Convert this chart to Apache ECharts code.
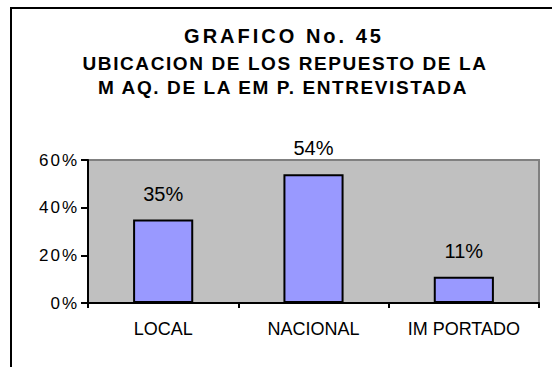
<!DOCTYPE html>
<html>
<head>
<meta charset="utf-8">
<script src="https://cdn.jsdelivr.net/npm/echarts@6/dist/echarts.min.js"></script>
<style>
  html, body { margin: 0; padding: 0; background: #fff; }
  #chart { width: 552px; height: 367px; }
  /* spaced-out lettering for the heading lines and the value axis */
  #chart text[style*="bold"][style*="20px"] { letter-spacing: 3px; }
  #chart text[style*="bold"][style*="19px"] { letter-spacing: 1.6px; }
  #chart text[style*="17px"] { letter-spacing: 2px; }
</style>
</head>
<body>
<div id="chart"></div>
<script>
// Chart content
const titleLines = [
  'GRAFICO No. 45',
  'UBICACION DE LOS REPUESTO DE LA',
  'M AQ. DE LA EM P. ENTREVISTADA'
];
const categories = ['LOCAL', 'NACIONAL', 'IM PORTADO'];
const shares = [35, 54, 11];          // percent
const axisMax = 60;
const axisStep = 20;

const FONT = '"Liberation Sans", Arial, sans-serif';

const chart = echarts.init(document.getElementById('chart'), null, { renderer: 'svg' });

chart.setOption({
  backgroundColor: '#ffffff',
  animation: false,
  graphic: [
    {
      type: 'rect',
      shape: { x: 11, y: 8, width: 620, height: 420 },
      style: { fill: 'none', stroke: '#000', lineWidth: 2 },
      silent: true
    },
    {
      type: 'text', x: 284, y: 35.5,
      style: { text: titleLines[0], font: 'bold 20px ' + FONT, fill: '#000',
               textAlign: 'center', textVerticalAlign: 'middle' }
    },
    {
      type: 'text', x: 285, y: 63,
      style: { text: titleLines[1], font: 'bold 19px ' + FONT, fill: '#000',
               textAlign: 'center', textVerticalAlign: 'middle' }
    },
    {
      type: 'text', x: 283, y: 87,
      style: { text: titleLines[2], font: 'bold 19px ' + FONT, fill: '#000',
               textAlign: 'center', textVerticalAlign: 'middle' }
    }
  ],
  grid: {
    left: 88, right: 13, top: 160, bottom: 64,
    show: true,
    backgroundColor: '#C0C0C0',
    borderColor: '#808080',
    borderWidth: 2
  },
  xAxis: {
    type: 'category',
    data: categories,
    axisLine: { lineStyle: { color: '#000', width: 2 } },
    axisTick: { show: true, alignWithLabel: false, length: 5, lineStyle: { color: '#000', width: 2 } },
    axisLabel: { color: '#000', fontSize: 18, fontFamily: FONT, margin: 17 },
    splitLine: { show: false }
  },
  yAxis: {
    type: 'value',
    min: 0, max: axisMax, interval: axisStep,
    axisLine: { show: true, lineStyle: { color: '#000', width: 2 } },
    axisTick: { show: true, length: 7, lineStyle: { color: '#000', width: 2 } },
    axisLabel: { color: '#000', fontSize: 17, fontFamily: FONT, margin: 9, formatter: '{value}%' },
    splitLine: { show: false }
  },
  series: [{
    type: 'bar',
    data: shares,
    barWidth: '40%',
    itemStyle: { color: '#9999FF', borderColor: '#000', borderWidth: 2 },
    label: {
      show: true, position: 'top', distance: 16,
      color: '#000', fontSize: 20, fontFamily: FONT,
      formatter: '{c}%'
    }
  }]
});
</script>
</body>
</html>
